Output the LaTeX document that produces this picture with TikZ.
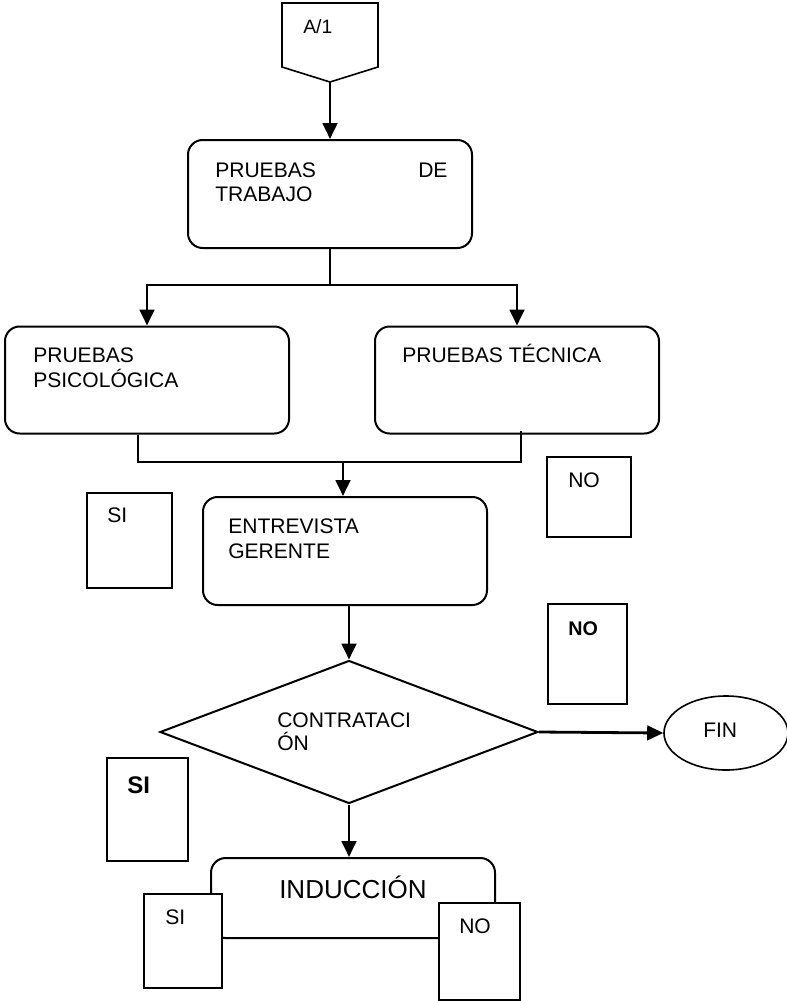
\documentclass[tikz,border=0pt]{standalone}
\usepackage{fontspec}
\setmainfont{Liberation Sans}
\usetikzlibrary{shapes.geometric,arrows.meta}
\begin{document}
\begin{tikzpicture}[x=0.75pt,y=-0.75pt,
  proc/.style={draw,rounded corners=11pt,line width=1.5pt,minimum width=213pt,inner sep=0pt},
  tag/.style={draw,fill=white,line width=1pt,inner sep=0pt},
  txt/.style={anchor=base west,inner sep=0pt,font=\fontsize{15.8}{18}\selectfont},
  btxt/.style={anchor=base west,inner sep=0pt,font=\fontsize{#1}{18}\selectfont\bfseries},
  flow/.style={line width=2.1pt,-{Triangle[length=12pt,width=11pt]}},
  link/.style={line width=1.5pt}]
\useasboundingbox (0,0) rectangle (787,1001);

% off-page connector
\draw[line width=1.2pt] (282,3) -- (378,3) -- (378,67) -- (330,82) -- (282,67) -- cycle;
\coordinate (a1) at (330,82);
\node[anchor=base west,inner sep=0pt,font=\fontsize{14.5}{16}\selectfont] (a1txt) at (303,33) {A/1};

% process boxes
\node[proc,minimum height=81pt] (trabajo) at (330,194) {};
\node[proc,minimum height=80.25pt] (psico) at (147,380) {};
\node[proc,minimum height=80.25pt] (tecnica) at (517,380) {};
\node[proc,minimum height=81pt] (entrevista) at (345,551) {};
\node[proc,minimum height=60pt] (induc) at (353,898) {};

% decision and terminator
\node[diamond,draw,line width=1.5pt,minimum width=283.5pt,minimum height=107.25pt,inner sep=0pt] (dec) at (349,732) {};
\node[ellipse,draw,line width=1.2pt,minimum width=93pt,minimum height=55.5pt,inner sep=0pt] (fin) at (726,733) {};

% texts
\node[txt] (t1a) at (215,177) {PRUEBAS};
\node[txt] (t1b) at (418,177) {DE};
\node[txt] (t1c) at (215,201) {TRABAJO};
\node[txt] (t2a) at (33,362) {PRUEBAS};
\node[txt] (t2b) at (33,387) {PSICOLÓGICA};
\node[txt] (t3) at (402,362) {PRUEBAS TÉCNICA};
\node[txt] (t4a) at (228,533) {ENTREVISTA};
\node[txt] (t4b) at (228,558) {GERENTE};
\node[txt] (t5a) at (277,727) {CONTRATACI};
\node[txt] (t5b) at (277,750) {ÓN};
\node[txt] (t6) at (703,737) {FIN};
\node[anchor=base west,inner sep=0pt,font=\fontsize{19.5}{22}\selectfont] (t7) at (279,898) {INDUCCIÓN};

% connectors
\coordinate (split) at (330,285);
\draw[link] (trabajo.south) -- (split);
\draw[flow] (split) -| (psico.north);
\draw[flow] (split) -| (tecnica.north);

\coordinate (mL) at (138,462);
\coordinate (mR) at (521,462);
\coordinate (mC) at (343,462);
\draw[link] (psico.south -| mL) -- (mL) -- (mR) -- ([yshift=2.5pt]tecnica.south -| mR);
\draw[flow] (mC) -- (entrevista.north -| mC);
\draw[flow] (a1) -- (trabajo.north);
\draw[flow] (entrevista.south -| dec.north) -- (dec.north);
\draw[flow] (dec.east) -- (fin.west);
\draw[flow] (dec.south) -- (dec.south |- induc.north);

% answer boxes
\node[tag,minimum width=63.75pt,minimum height=71.25pt] (siA) at (129.5,540.5) {};
\node[txt] (siAt) at (107,522) {SI};
\node[tag,minimum width=63pt,minimum height=60pt] (noA) at (589,497) {};
\node[txt] (noAt) at (568,487) {NO};
\node[tag,minimum width=59.25pt,minimum height=75pt] (noB) at (587.5,654) {};
\node[btxt=14.8] (noBt) at (568,635) {NO};
\node[tag,minimum width=60.75pt,minimum height=77.25pt] (siB) at (147.5,809.5) {};
\node[btxt=18] (siBt) at (127,793) {SI};
\node[tag,minimum width=58.5pt,minimum height=70.5pt] (siC) at (183,941) {};
\node[txt] (siCt) at (165,924) {SI};
\node[tag,minimum width=60.75pt,minimum height=72.75pt] (noC) at (479.5,951.5) {};
\node[txt] (noCt) at (459,933) {NO};
\end{tikzpicture}
\end{document}
